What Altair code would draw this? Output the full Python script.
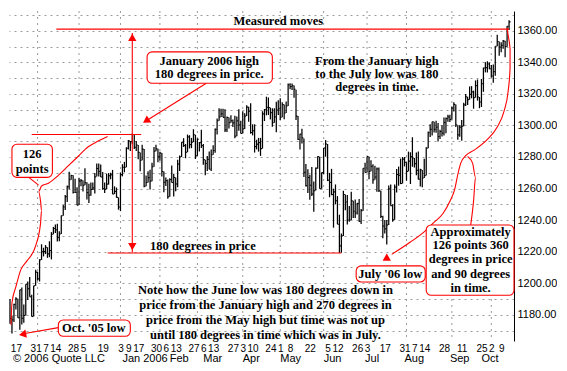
import altair as alt
import pandas as pd

# ---------------- daily price bars (S&P 500, Oct 12 2005 .. Oct 13 2006) ----------------
high = [
    1190.0, 1179.5, 1187.0, 1191.2, 1190.1, 1195.8, 1197.3, 1186.5, 1199.4, 1201.1, 1204.0, 1192.7, 1198.4, 1208.6,
    1207.3, 1215.2, 1224.7, 1222.5, 1224.2, 1222.8, 1226.6, 1232.4, 1235.7, 1237.2, 1237.7, 1233.0, 1242.9, 1249.6, 1255.9, 1261.9, 1270.6, 1268.8, 1268.4, 1266.2, 1260.9,
    1266.9, 1266.0, 1265.1, 1272.9, 1264.0, 1263.1, 1263.9, 1263.9, 1269.8, 1275.8, 1275.8, 1275.2, 1270.5, 1263.9, 1269.4, 1269.8, 1270.0, 1271.8, 1261.4, 1260.6, 1254.4,
    1270.2, 1275.4, 1276.9, 1286.1, 1290.8, 1290.2, 1294.9, 1294.2, 1290.1, 1287.6, 1282.9, 1287.8, 1285.0, 1268.2, 1271.0, 1271.9, 1276.4, 1286.4, 1287.8, 1285.2,
    1283.3, 1282.5, 1270.8, 1267.0, 1265.8, 1266.5, 1274.6, 1269.3, 1267.0, 1278.2, 1281.0, 1289.4, 1291.9, 1288.2, 1294.2, 1293.8, 1292.1, 1297.6, 1294.1,
    1291.8, 1289.5, 1297.3, 1288.2, 1278.3, 1280.7, 1283.4, 1284.8, 1287.4, 1298.1, 1304.4, 1310.9, 1310.6, 1310.6, 1310.2, 1305.6, 1305.0, 1306.5, 1303.7, 1306.2, 1305.6, 1310.2, 1303.0,
    1309.0, 1307.7, 1312.8, 1311.8, 1314.1, 1300.7, 1300.7, 1290.9, 1292.1, 1292.1, 1309.0, 1310.4, 1318.2, 1317.7, 1311.3, 1310.8, 1310.9, 1315.0, 1316.0,
    1317.2, 1314.7, 1313.2, 1315.1, 1326.5, 1326.7, 1326.6, 1325.3, 1322.6, 1305.9, 1294.8, 1297.9, 1291.7, 1275.6, 1272.2, 1268.8, 1273.7, 1264.5, 1273.3, 1280.5, 1280.2, 1270.2,
    1285.7, 1290.7, 1288.2, 1269.9, 1272.5, 1259.9, 1262.6, 1255.2, 1243.4, 1231.5, 1258.6, 1256.3, 1255.9, 1249.0, 1257.9, 1252.2, 1253.1, 1250.9, 1253.4, 1247.1, 1272.9, 1276.3,
    1280.2, 1280.2, 1277.9, 1275.4, 1274.4, 1273.3, 1273.3, 1258.6, 1242.7, 1240.1, 1240.1, 1262.0, 1262.6, 1250.0, 1262.6, 1272.4, 1273.9, 1279.0, 1280.0, 1280.0,
    1276.7, 1283.4, 1283.0, 1292.5, 1279.4, 1282.8, 1283.4, 1272.6, 1271.8, 1278.9, 1286.2, 1296.2, 1300.8, 1302.3, 1302.3, 1302.9, 1301.6, 1297.2, 1300.1, 1305.0, 1305.0, 1306.7, 1306.7,
    1312.0, 1314.7, 1313.3, 1300.1, 1300.1, 1303.5, 1314.3, 1319.9, 1318.1, 1324.7, 1324.9, 1322.0, 1328.5, 1329.1, 1318.0, 1329.4, 1336.6, 1340.1, 1340.7, 1339.9,
    1338.3, 1338.6, 1350.2, 1357.4, 1353.2, 1352.7, 1354.2, 1353.6, 1363.0, 1366.6,
]
low = [
    1174.4, 1168.2, 1175.4, 1183.3, 1178.1, 1170.6, 1173.8, 1174.9, 1179.6, 1189.3, 1191.4, 1178.9, 1178.9, 1198.4,
    1201.7, 1201.1, 1214.8, 1217.0, 1218.5, 1216.1, 1216.5, 1215.1, 1231.0, 1231.8, 1226.4, 1226.6, 1231.2, 1242.8, 1246.4, 1251.4, 1259.5, 1265.5, 1256.8, 1257.5, 1249.4,
    1249.5, 1261.4, 1258.1, 1262.1, 1253.0, 1250.9, 1255.5, 1259.0, 1256.8, 1267.7, 1267.7, 1267.3, 1259.3, 1257.2, 1259.6, 1262.5, 1265.9, 1256.5, 1256.5, 1254.2, 1246.6,
    1245.7, 1267.7, 1270.3, 1273.5, 1284.8, 1283.8, 1288.1, 1285.0, 1283.8, 1278.6, 1271.0, 1277.9, 1260.9, 1261.5, 1263.8, 1259.4, 1264.7, 1273.8, 1283.7, 1276.7,
    1277.6, 1267.7, 1257.7, 1261.6, 1253.6, 1254.8, 1263.8, 1254.9, 1258.3, 1260.8, 1271.1, 1280.0, 1286.4, 1279.2, 1283.0, 1285.4, 1285.6, 1289.4, 1278.7,
    1280.7, 1283.5, 1285.7, 1275.1, 1268.4, 1271.1, 1272.2, 1271.1, 1281.4, 1282.7, 1294.2, 1303.0, 1305.3, 1305.1, 1295.8, 1295.8, 1298.1, 1301.7, 1299.0, 1291.8, 1293.2, 1296.7, 1294.9,
    1294.9, 1297.8, 1305.9, 1302.4, 1294.8, 1293.7, 1282.8, 1284.8, 1283.4, 1280.7, 1285.3, 1302.8, 1306.4, 1306.6, 1303.8, 1299.2, 1301.7, 1295.6, 1306.6,
    1303.5, 1305.2, 1303.9, 1307.9, 1312.3, 1322.9, 1322.5, 1317.5, 1303.5, 1290.7, 1284.8, 1288.5, 1267.3, 1261.3, 1257.1, 1252.9, 1255.2, 1245.3, 1258.8, 1272.5, 1259.9, 1259.8,
    1269.2, 1280.2, 1264.7, 1254.5, 1255.8, 1235.2, 1250.0, 1237.4, 1219.3, 1219.3, 1230.0, 1246.3, 1237.2, 1238.9, 1240.1, 1241.4, 1241.4, 1243.5, 1238.9, 1237.6, 1246.0, 1270.2,
    1270.2, 1265.9, 1270.9, 1263.1, 1265.5, 1257.9, 1257.8, 1241.4, 1228.5, 1231.5, 1224.5, 1236.9, 1249.1, 1238.9, 1240.3, 1257.5, 1261.8, 1262.8, 1263.2, 1274.0,
    1265.0, 1270.9, 1262.9, 1273.8, 1273.3, 1268.4, 1265.7, 1261.3, 1260.8, 1266.7, 1268.2, 1285.6, 1292.7, 1293.6, 1295.5, 1295.3, 1289.8, 1291.4, 1292.9, 1293.6, 1295.0, 1302.4, 1302.2,
    1303.8, 1308.8, 1299.0, 1290.9, 1292.8, 1290.3, 1299.5, 1312.3, 1313.0, 1316.3, 1317.2, 1310.6, 1317.6, 1315.7, 1310.9, 1311.7, 1321.3, 1333.6, 1333.5, 1335.6,
    1330.3, 1327.1, 1331.5, 1350.2, 1344.2, 1346.4, 1348.6, 1343.2, 1349.9, 1360.5,
]
close = [
    1177.7, 1176.8, 1186.6, 1190.1, 1178.1, 1195.8, 1177.8, 1179.6, 1199.4, 1196.5, 1191.4, 1178.9, 1198.4, 1207.0,
    1202.8, 1214.8, 1219.9, 1220.1, 1222.8, 1218.6, 1220.7, 1231.0, 1234.7, 1233.8, 1229.0, 1231.2, 1242.8, 1248.3, 1254.9, 1261.2, 1265.6, 1268.3, 1257.5, 1257.5, 1249.5,
    1264.7, 1265.1, 1262.1, 1263.7, 1257.4, 1255.8, 1259.4, 1260.4, 1267.4, 1272.7, 1270.9, 1267.3, 1259.9, 1259.6, 1262.8, 1268.1, 1268.7, 1256.5, 1258.2, 1254.4, 1248.3,
    1268.8, 1273.5, 1273.5, 1285.5, 1290.2, 1289.7, 1294.2, 1286.1, 1287.6, 1282.9, 1277.9, 1285.0, 1261.5, 1263.8, 1266.9, 1264.7, 1273.8, 1283.7, 1285.2, 1280.1,
    1282.5, 1270.8, 1264.0, 1265.0, 1254.8, 1265.7, 1263.8, 1267.0, 1262.9, 1275.5, 1280.0, 1289.4, 1287.2, 1283.0, 1292.7, 1287.8, 1289.4, 1294.1, 1280.7,
    1291.2, 1289.1, 1287.2, 1278.3, 1275.9, 1278.5, 1272.2, 1281.4, 1284.1, 1297.5, 1303.0, 1305.3, 1307.3, 1305.1, 1297.2, 1305.0, 1301.7, 1303.0, 1301.6, 1293.2, 1302.9, 1300.3, 1294.9,
    1297.8, 1305.9, 1311.6, 1309.0, 1295.5, 1296.6, 1286.6, 1288.1, 1289.1, 1285.3, 1307.3, 1309.9, 1311.5, 1311.3, 1308.1, 1301.7, 1305.4, 1309.7, 1310.6,
    1305.2, 1313.2, 1307.9, 1312.3, 1325.8, 1324.7, 1325.1, 1322.9, 1305.9, 1291.2, 1294.5, 1292.1, 1270.3, 1261.8, 1267.0, 1262.1, 1256.6, 1258.6, 1272.9, 1280.2, 1259.9, 1270.1,
    1285.7, 1288.2, 1265.3, 1263.9, 1256.2, 1257.9, 1252.3, 1237.4, 1223.7, 1230.0, 1256.2, 1251.5, 1240.1, 1240.1, 1252.2, 1245.6, 1244.5, 1250.6, 1239.2, 1246.0, 1272.9, 1270.2,
    1280.2, 1270.9, 1274.1, 1265.5, 1267.3, 1272.4, 1258.6, 1242.3, 1236.2, 1234.5, 1236.9, 1259.8, 1249.1, 1240.3, 1260.9, 1268.9, 1268.4, 1263.2, 1278.6, 1276.7,
    1270.9, 1277.4, 1280.3, 1279.4, 1275.8, 1271.5, 1266.0, 1271.8, 1266.7, 1268.2, 1285.6, 1295.4, 1297.5, 1302.3, 1297.5, 1298.8, 1293.0, 1296.1, 1295.1, 1301.8, 1304.3, 1305.4, 1303.8,
    1311.0, 1313.3, 1300.3, 1294.0, 1298.9, 1299.5, 1313.0, 1318.1, 1316.3, 1319.7, 1321.2, 1317.6, 1325.2, 1318.0, 1314.8, 1326.4, 1336.4, 1336.6, 1338.9, 1335.9,
    1331.3, 1334.1, 1350.2, 1353.2, 1349.6, 1350.7, 1353.4, 1350.0, 1362.8, 1365.6,
]

# ---------------- axis labels ----------------
tick_idx = [3, 13, 18, 23, 32, 37, 47, 56, 60, 65, 74, 79, 84, 93, 98, 103, 113, 118, 123, 132,
            137, 142, 152, 161, 166, 176, 181, 190, 200, 205, 210, 220, 229, 239, 244, 249]
tick_lbl = ["17", "31", "7", "14", "28", "5", "19", "3", "9", "17", "30", "6", "13", "27", "6", "13", "27", "3", "10", "24",
            "1", "8", "22", "5", "12", "26", "3", "17", "31", "7", "14", "28", "11", "25", "2", "9"]
month_start_idx = [14, 35, 56, 76, 95, 118, 137, 159, 181, 201, 224, 244]
month_lbl_idx = [57, 81, 98, 118, 137, 159, 180, 200, 223, 239]
month_lbl = ["Jan 2006", "Feb", "Mar", "Apr", "May", "Jun", "Jul", "Aug", "Sep", "Oct"]
y_values = list(range(1170, 1371, 10))
copyright_txt = ["\u00a9 2006 Quote LLC"]
copyright_idx = [1.5]

# ---------------- annotations (in data units: bar index, price) ----------------
note_text = ["Measured moves",
             "January 2006 high", "180 degrees in price.",
             "126", "points",
             "From the January high", "to the July low was 180", "degrees in time.",
             "Oct. '05 low", "July '06 low",
             "Approximately", "126 points 360", "degrees in price", "and 90 degrees", "in time.",
             "Note how the June low was 180 degrees down in",
             "price from the January high and 270 degrees in",
             "price from the May high but time was not up",
             "until 180 degrees in time which was in July."]
note_x = [136, 101, 101, 11.25, 11.25, 186, 186, 186, 42.5, 192.75,
          233.5, 233.5, 233.5, 233.5, 233.5, 129.5, 129.5, 129.5, 129.5]
note_y = [1366.4, 1341.1, 1332.7, 1282.1, 1272.5, 1341.1, 1332.7, 1324.3, 1171.6, 1205.6,
          1232.7, 1224.3, 1215.2, 1205.6, 1197.2, 1196.0, 1186.3, 1176.7, 1167.0]
left_text = ["180 degrees in price"]
left_x = [71]
left_y = [1223.7]

box_x = [69.5, 1, 24.5, 175.5, 211]
box_x2 = [133, 21.5, 61, 210.5, 255.5]
box_y = [1326.7, 1267.1, 1166.4, 1200.8, 1192.4]
box_y2 = [1346.6, 1288.1, 1176.7, 1211.0, 1236.9]

seg_x = [23.5, 11, 49.5, 62, 99.5, 24.5, 9.5]
seg_x2 = [253, 66.5, 168, 62, 68.5, 7.5, 14.5]
seg_y = [1361.0, 1294.2, 1219.2, 1219.5, 1326.7, 1171.9, 1267.1]
seg_y2 = [1361.0, 1294.2, 1219.2, 1358.6, 1302.5, 1168.2, 1262.2]

head_x = [62, 62, 69.5, 7, 191]
head_y = [1355.0, 1224.0, 1303.3, 1167.8, 1215.8]
head_angle = [0, 180, 237, 260, 0]

curve_left_x = [49.5, 44.5, 39.5, 34.5, 29.5, 24.5, 19.5, 16, 14.5, 15.5, 16, 15.5, 13, 8.5, 5.5, 3, 1, 0.5]
curve_left_y = [1292.9, 1289.9, 1286.3, 1280.3, 1274.3, 1268.3, 1263.4, 1261.6, 1258.0, 1252.0, 1246.0, 1238.1,
                1223.7, 1214.0, 1208.6, 1197.8, 1187.5, 1173.7]
curve_right_x = [193.5, 203, 209.5, 214.5, 219.5, 223, 225.5, 227, 228.5, 231, 235.5, 242, 247, 250.5, 252.5,
                 253.5, 253.5, 252.5, 252]
curve_right_y = [1218.3, 1226.1, 1232.1, 1238.1, 1244.2, 1252.0, 1259.8, 1268.9, 1276.1, 1280.9, 1284.5, 1291.1,
                 1299.0, 1309.2, 1321.3, 1336.3, 1348.4, 1357.4, 1361.6]
curve_link_x = [233.5, 235, 236, 234.5, 232]
curve_link_y = [1236.3, 1252.0, 1267.1, 1276.1, 1280.3]

# ---------------- chart ----------------
W, H = 505, 330
RED = "#ff0000"
SERIF = "Liberation Serif"
SANS = "Liberation Sans"

xs = alt.Scale(domain=[-0.5, 255.5], nice=False, zero=False)
ys = alt.Scale(domain=[1163.4, 1372.5], nice=False, zero=False)

lbl_expr = ("[" + ",".join("'%s'" % s for s in tick_lbl) + "][indexof(["
            + ",".join(str(v) for v in tick_idx) + "], datum.value)]")
xaxis = alt.Axis(values=tick_idx, labelExpr=lbl_expr, grid=False, ticks=False, domain=False,
                 labelOverlap=False, labelFlush=False, labelFont=SANS, labelFontSize=10,
                 labelColor="black", labelPadding=2, title=None)
yaxis = alt.Axis(orient="right", values=y_values,
                 labelExpr="datum.value % 20 == 0 ? format(datum.value, '.2f') : ''",
                 grid=True, gridDash=[2, 4], gridColor="#9a9a9a", gridWidth=1,
                 domain=True, domainColor="black", domainWidth=1, ticks=False,
                 labelOverlap=False, labelFlush=False,
                 labelFont=SANS, labelFontSize=11, labelColor="black", labelPadding=3, title=None)


def X(f):
    return alt.X(f + ":Q", scale=xs, axis=xaxis)


def Y(f):
    return alt.Y(f + ":Q", scale=ys, axis=yaxis)


bars_df = pd.DataFrame({"idx": list(range(len(close))), "high": high, "low": low, "close": close})
base = alt.Chart(bars_df)

vgrid = alt.Chart(pd.DataFrame({"idx": month_start_idx})).mark_rule(
    color="#9a9a9a", strokeDash=[2, 4], strokeWidth=1).encode(x=X("idx"))

hl = base.mark_rule(color="black", strokeWidth=1.25).encode(x=X("idx"), y=Y("low"), y2=alt.Y2("high:Q"))
cl = base.transform_calculate(idx2="datum.idx + 0.75").mark_rule(color="black", strokeWidth=1.1).encode(
    x=X("idx"), x2=alt.X2("idx2:Q"), y=Y("close"))

segs = alt.Chart(pd.DataFrame({"x": seg_x, "x2": seg_x2, "y": seg_y, "y2": seg_y2})).mark_rule(
    color=RED, strokeWidth=1.1).encode(x=X("x"), x2=alt.X2("x2:Q"), y=Y("y"), y2=alt.Y2("y2:Q"))

curve_rows = []
for g, (cx, cy) in enumerate([(curve_left_x, curve_left_y), (curve_right_x, curve_right_y),
                              (curve_link_x, curve_link_y)]):
    for i, (a, b) in enumerate(zip(cx, cy)):
        curve_rows.append({"g": g, "o": i, "x": a, "y": b})
curves = alt.Chart(pd.DataFrame(curve_rows)).mark_line(color=RED, strokeWidth=1.1, interpolate="monotone").encode(
    x=X("x"), y=Y("y"), detail="g:N", order="o:Q")

boxes = alt.Chart(pd.DataFrame({"x": box_x, "x2": box_x2, "y": box_y, "y2": box_y2})).mark_rect(
    cornerRadius=5, fill="white", stroke=RED, strokeWidth=1.1).encode(
    x=X("x"), x2=alt.X2("x2:Q"), y=Y("y"), y2=alt.Y2("y2:Q"))

heads = alt.Chart(pd.DataFrame({"x": head_x, "y": head_y, "a": head_angle})).mark_point(
    shape="triangle", filled=True, color=RED, opacity=1, size=70).encode(
    x=X("x"), y=Y("y"), angle=alt.Angle("a:Q", scale=None))

texts = alt.Chart(pd.DataFrame({"x": note_x, "y": note_y, "t": note_text})).mark_text(
    font=SERIF, fontWeight="bold", fontSize=12.5, color="black", align="center", baseline="middle").encode(
    x=X("x"), y=Y("y"), text="t:N")
ltexts = alt.Chart(pd.DataFrame({"x": left_x, "y": left_y, "t": left_text})).mark_text(
    font=SERIF, fontWeight="bold", fontSize=12.5, color="black", align="left", baseline="middle").encode(
    x=X("x"), y=Y("y"), text="t:N")

months = alt.Chart(pd.DataFrame({"x": month_lbl_idx + copyright_idx, "t": month_lbl + copyright_txt})).mark_text(
    font=SANS, fontSize=11, color="black", align="left", baseline="middle").encode(
    x=X("x"), y=alt.value(H + 18), text="t:N")

chart = alt.layer(vgrid, hl, cl, segs, curves, boxes, texts, ltexts, heads, months).properties(
    width=W, height=H, padding=0, background="white"
).configure_view(stroke=None)

chart.save("out.html", embed_options={"renderer": "svg", "actions": False})
